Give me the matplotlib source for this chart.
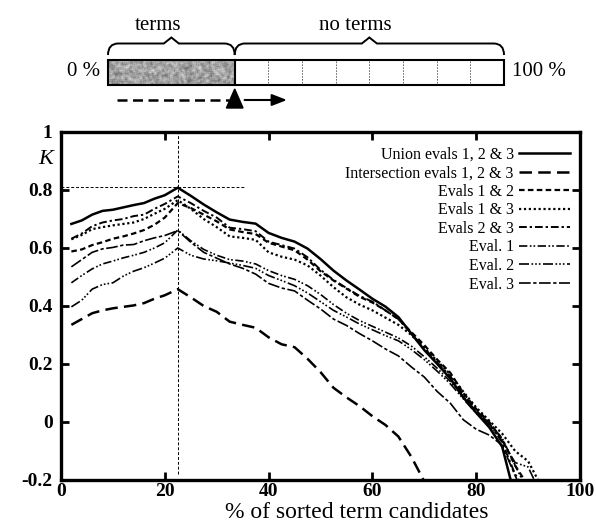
import numpy as np
import matplotlib
matplotlib.use("Agg")
import matplotlib.pyplot as plt
from matplotlib.path import Path
from matplotlib.patches import PathPatch, Rectangle, Polygon

plt.rcParams["font.family"] = ["Liberation Serif", "DejaVu Serif"]

# ----------------------
# data
# ----------------------
nan = np.nan
x_pct = [2, 4, 6, 8, 10, 12, 14, 16, 18, 20, 22.5, 25, 27.5, 30, 32.5, 35, 37.5,
         40, 42.5, 45, 47.5, 50, 52.5, 55, 57.5, 60, 62.5, 65, 67.5, 70, 72.5,
         75, 77.5, 80, 82.5, 85, 87.5, 90, 92.5]

union = [0.683, 0.695, 0.715, 0.728, 0.732, 0.740, 0.748, 0.755, 0.770, 0.782, 0.808,
         0.780, 0.750, 0.723, 0.698, 0.690, 0.684, 0.652, 0.635, 0.622, 0.598, 0.562,
         0.522, 0.488, 0.457, 0.425, 0.398, 0.362, 0.305, 0.248, 0.200, 0.150, 0.085,
         0.032, -0.018, -0.085, -0.26, nan, nan]
intersection = [0.335, 0.355, 0.375, 0.385, 0.392, 0.397, 0.402, 0.410, 0.425, 0.437, 0.458,
                0.430, 0.400, 0.380, 0.346, 0.335, 0.325, 0.292, 0.268, 0.258, 0.218, 0.172,
                0.118, 0.085, 0.055, 0.020, -0.010, -0.050, -0.120, -0.205, -0.29, nan,
                nan, nan, nan, nan, nan, nan, nan]
evals_12 = [0.588, 0.595, 0.610, 0.620, 0.632, 0.640, 0.650, 0.662, 0.680, 0.705, 0.755,
            0.738, 0.715, 0.692, 0.664, 0.655, 0.648, 0.618, 0.605, 0.592, 0.560, 0.520,
            0.488, 0.460, 0.432, 0.412, 0.385, 0.355, 0.310, 0.265, 0.215, 0.170, 0.100,
            0.045, 0.000, -0.060, -0.150, -0.22, nan]
evals_13 = [0.630, 0.645, 0.665, 0.672, 0.678, 0.683, 0.688, 0.700, 0.718, 0.735, 0.765,
            0.735, 0.700, 0.672, 0.640, 0.635, 0.628, 0.585, 0.570, 0.560, 0.540, 0.505,
            0.465, 0.430, 0.405, 0.385, 0.360, 0.335, 0.300, 0.255, 0.210, 0.165, 0.105,
            0.050, 0.005, -0.040, -0.100, -0.135, -0.22]
evals_23 = [0.632, 0.650, 0.675, 0.688, 0.695, 0.700, 0.710, 0.715, 0.735, 0.752, 0.778,
            0.755, 0.728, 0.705, 0.670, 0.665, 0.658, 0.622, 0.610, 0.598, 0.568, 0.525,
            0.490, 0.462, 0.435, 0.415, 0.385, 0.355, 0.305, 0.255, 0.205, 0.158, 0.095,
            0.040, -0.005, -0.070, -0.180, -0.25, nan]
eval_1 = [0.480, 0.505, 0.528, 0.545, 0.555, 0.566, 0.575, 0.585, 0.600, 0.618, 0.662,
          0.625, 0.595, 0.575, 0.560, 0.555, 0.545, 0.522, 0.505, 0.492, 0.470, 0.440,
          0.405, 0.375, 0.350, 0.330, 0.310, 0.290, 0.262, 0.225, 0.185, 0.140, 0.088,
          0.038, -0.005, -0.055, -0.150, -0.24, nan]
eval_2 = [0.397, 0.420, 0.458, 0.474, 0.480, 0.503, 0.520, 0.532, 0.548, 0.565, 0.600,
          0.575, 0.562, 0.556, 0.548, 0.540, 0.530, 0.505, 0.488, 0.470, 0.445, 0.415,
          0.385, 0.362, 0.338, 0.318, 0.298, 0.280, 0.250, 0.215, 0.175, 0.132, 0.080,
          0.030, -0.010, -0.065, -0.140, -0.155, -0.25]
eval_3 = [0.535, 0.560, 0.585, 0.597, 0.602, 0.610, 0.612, 0.625, 0.635, 0.643, 0.660,
          0.620, 0.585, 0.565, 0.545, 0.530, 0.510, 0.478, 0.462, 0.452, 0.420, 0.390,
          0.355, 0.333, 0.305, 0.280, 0.252, 0.228, 0.190, 0.155, 0.105, 0.065, 0.008,
          -0.025, -0.045, -0.080, -0.185, -0.28, nan]

series_labels = ["Union evals 1, 2 & 3", "Intersection evals 1, 2 & 3",
                 "Evals 1 & 2", "Evals 1 & 3", "Evals 2 & 3",
                 "Eval. 1", "Eval. 2", "Eval. 3"]
series_values = [union, intersection, evals_12, evals_13, evals_23, eval_1, eval_2, eval_3]

peak_x = 22.5
peak_k = 0.81

# ----------------------
# figure
# ----------------------
fig = plt.figure(figsize=(5.96, 5.24), dpi=100)
ax = fig.add_axes([61 / 596, 1 - 480 / 524, 519 / 596, 348 / 524])

styles = [
    dict(ls="-", lw=1.8),
    dict(ls=(0, (5, 2.5)), lw=1.8),
    dict(ls=(0, (2.5, 1.5)), lw=1.6),
    dict(ls=(0, (1, 1.2)), lw=1.6),
    dict(ls=(0, (4, 1.5, 1.2, 1.5)), lw=1.4),
    dict(ls=(0, (5, 1.5, 1, 1.2, 1, 1.5)), lw=1.2),
    dict(ls=(0, (6, 1.5, 1, 1.2, 1, 1.2, 1, 1.5)), lw=1.2),
    dict(ls=(0, (7, 1.5, 2, 1.5)), lw=1.2),
]

x = np.array(x_pct)
for lab, vals, st in zip(series_labels, series_values, styles):
    ax.plot(x, np.array(vals, dtype=float), color="black", label=lab,
            dash_capstyle="butt", **st)

# reference lines at the peak
ax.plot([peak_x, peak_x], [-0.18, 1.0], color="black", lw=0.7, ls=(0, (3, 2)))
ax.plot([0, 35.3], [peak_k, peak_k], color="black", lw=0.7, ls=(0, (3, 2)))

ax.set_xlim(0, 100)
ax.set_ylim(-0.2, 1.0)
ax.set_xticks([0, 20, 40, 60, 80, 100])
ax.set_yticks([-0.2, 0, 0.2, 0.4, 0.6, 0.8, 1.0])
ax.set_yticklabels(["-0.2", "0", "0.2", "0.4", "0.6", "0.8", "1"])
ax.tick_params(direction="in", length=6, width=2, top=True, right=True,
               labelsize=14)
ax.tick_params(axis="y", pad=6)
ax.tick_params(axis="x", pad=2)
for lbl in ax.get_xticklabels() + ax.get_yticklabels():
    lbl.set_fontweight("bold")
for sp in ax.spines.values():
    sp.set_linewidth(2.4)

ax.set_xlabel("% of sorted term candidates", fontsize=17)
ax.xaxis.set_label_coords(0.57, -0.063)
ax.text(-3.0, 0.905, "K", fontsize=16, style="italic", ha="center", va="center",
        clip_on=False)

ax.legend(loc="upper right", bbox_to_anchor=(0.98, 0.958), frameon=False,
          markerfirst=False, fontsize=11.5, handlelength=3.2, handletextpad=0.3,
          labelspacing=0.16, borderpad=0, borderaxespad=0)

# ----------------------
# schematic above the plot (bar from 0 to 100 units, y in pixels from top)
# ----------------------
dax = fig.add_axes([0, 1 - 131 / 524, 1, 131 / 524])
dax.set_xlim(-108 / 3.96, (596 - 108) / 3.96)
dax.set_ylim(131, 0)
dax.axis("off")

split = 32
# speckled texture for the "terms" part (deterministic hash noise)
gy, gx = np.mgrid[0:25, 0:127]
noise = np.sin(gx * 12.9898 + gy * 78.233) * 43758.5453
noise = noise - np.floor(noise)
k = np.ones(3) / 3
noise = np.apply_along_axis(lambda r: np.convolve(r, k, mode="same"), 1, noise)
noise = np.apply_along_axis(lambda c: np.convolve(c, k, mode="same"), 0, noise)
dax.imshow(noise, cmap="gray", vmin=-0.45, vmax=1.05, extent=(0, split, 85, 60),
           aspect="auto", interpolation="bilinear")
dax.add_patch(Rectangle((0, 60), 100, 25, fill=False, ec="black", lw=1.5))
dax.plot([split, split], [60, 85], color="black", lw=1.5)
for i in range(1, 8):
    xd = split + i * (100 - split) / 8
    dax.plot([xd, xd], [61, 84], color="#555555", lw=0.6, ls=(0, (2, 1.5)))


def brace(x0, x1, y_end=55, y_bar=43.5, tip=6, r=2.6, w=1.9):
    xm = (x0 + x1) / 2
    verts = [(x0, y_end), (x0, y_bar), (x0 + r, y_bar),
             (xm - w, y_bar), (xm, y_bar - tip), (xm + w, y_bar),
             (x1 - r, y_bar), (x1, y_bar), (x1, y_end)]
    codes = [Path.MOVETO, Path.CURVE3, Path.CURVE3,
             Path.LINETO, Path.LINETO, Path.LINETO,
             Path.LINETO, Path.CURVE3, Path.CURVE3]
    dax.add_patch(PathPatch(Path(verts, codes), fill=False, lw=1.4, ec="black"))


brace(0, split)
brace(split, 100)
dax.text(12.6, 25, "terms", fontsize=15, ha="center", va="center")
dax.text(62.4, 25, "no terms", fontsize=15, ha="center", va="center")
dax.text(-2, 72, "0 %", fontsize=15, ha="right", va="center")
dax.text(102, 72, "100 %", fontsize=15, ha="left", va="center")

# arrows below the bar
dax.plot([2.3, 30.5], [100, 100], color="black", lw=1.8, ls=(0, (4, 2.2)))
dax.add_patch(Polygon([(split - 2.1, 108), (split + 2.1, 108), (split, 89)],
                      closed=True, color="black"))
dax.annotate("", xy=(45.2, 100), xytext=(34.5, 100),
             arrowprops=dict(arrowstyle="-|>,head_length=0.9,head_width=0.35",
                             color="black", lw=1.5, shrinkA=0, shrinkB=0))

fig.savefig("out.png", dpi=100)
